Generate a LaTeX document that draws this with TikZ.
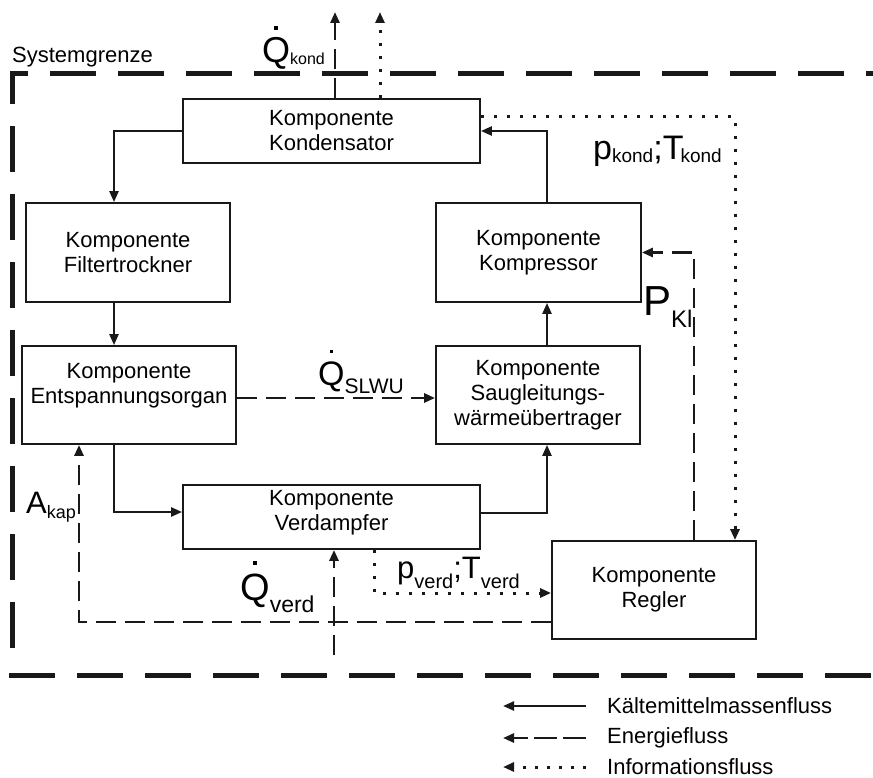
\documentclass[tikz,border=0pt]{standalone}
\usepackage{fontspec}
\setmainfont{Liberation Sans}
\usetikzlibrary{arrows.meta,calc}
% Q with a dot above (time derivative); the dot is a small square rule
\newcommand\Qdot{\ooalign{Q\cr\hidewidth\raisebox{0.93em}{\rule{3.5pt}{3.5pt}}\hidewidth\cr}}
% symbol with lowered subscript: size, symbol, subscript size, subscript, drop
\newcommand\flab[5]{{\fontsize{#1}{#1}\selectfont #2}\raisebox{-#5}{\fontsize{#3}{#3}\selectfont #4}}
\begin{document}
\begin{tikzpicture}[x=1pt,y=-1pt,
  comp/.style={draw=black!90, line width=1.8pt, align=center, inner sep=0pt,
    font=\fontsize{22}{25}\selectfont},
  comptext/.style={align=center, inner sep=0pt, font=\fontsize{22}{25}\selectfont},
  tip/.style={-{Triangle[length=11pt,width=9pt]}},
  mass/.style={tip, line width=2.3pt, draw=black!90},
  energy/.style={tip, line width=2.7pt, draw=black!90, dash pattern=on 20pt off 9pt},
  info/.style={tip, line width=3pt, draw=black!90, dash pattern=on 3pt off 10pt},
  boundary/.style={line width=5pt, draw=black!90, dash pattern=on 46pt off 22pt},
  lab/.style={inner sep=0pt, anchor=base west},
  legtext/.style={inner sep=0pt, anchor=west, font=\fontsize{22}{25}\selectfont}]
\useasboundingbox (0,0) rectangle (873,778);

% system boundary
\draw[boundary] (12,648) -- (12,74) -- (873,74);
\draw[boundary] (9,675) -- (873,675);
\node[lab, font=\fontsize{22}{25}\selectfont] (sysg) at (12,63) {Systemgrenze};

% components
\node[comp, minimum width=297pt, minimum height=64pt] (kond) at (331.5,131) {Komponente\\Kondensator};
\node[comp, minimum width=204pt, minimum height=99pt] (filt) at (128,252.5) {Komponente\\Filtertrockner};
\node[comp, minimum width=205pt, minimum height=99pt] (komp) at (538.5,252.5) {Komponente\\Kompressor};
\node[comp, minimum width=214pt, minimum height=98pt] (ent) at (129,395) {};
\node[comptext] (enttext) at (129,386) {Komponente\\Entspannungsorgan};
\node[comp, minimum width=204pt, minimum height=98pt] (saug) at (538,395) {Komponente\\Saugleitungs-\\wärmeübertrager};
\node[comp, minimum width=297pt, minimum height=64pt] (verd) at (331.5,517) {};
\node[comptext] (verdtext) at (331.5,513) {Komponente\\Verdampfer};
\node[comp, minimum width=204pt, minimum height=98pt] (regl) at (654,590) {Komponente\\Regler};

% guide coordinates for the connector lines
\coordinate (xL) at (114,0);
\coordinate (xR) at (547,0);
\coordinate (xQk) at (335,0);
\coordinate (xIk) at (380,0);
\coordinate (xIr) at (735,0);
\coordinate (xP) at (694,0);
\coordinate (xA) at (79,0);
\coordinate (xQv) at (334,0);
\coordinate (xIv) at (374,0);
\coordinate (qktop) at (335,12);
\coordinate (iktop) at (380,12);
\coordinate (qvbot) at (334,655);

% refrigerant mass flow
\draw[mass] (kond.west) -| (xL |- filt.north);
\draw[mass] (xL |- filt.south) -- (xL |- ent.north);
\draw[mass] (xL |- ent.south) |- ([yshift=5pt]verd.west);
\draw[mass] ([yshift=4pt]verd.east) -| (xR |- saug.south);
\draw[mass] (xR |- saug.north) -- (xR |- komp.south);
\draw[mass] (xR |- komp.north) |- (kond.east);

% energy flow
\draw[energy] (xQk |- kond.north) -- (qktop);
\draw[energy] ([yshift=-3pt]ent.east) -- ([yshift=-3pt]saug.west);
\draw[energy] (xP |- regl.north) |- (komp.east);
\draw[energy] ([yshift=-32pt]regl.west) -| (xA |- ent.south);
\draw[energy] (qvbot) -- (xQv |- verd.south);

% information flow
\draw[info] (xIk |- kond.north) -- (iktop);
\draw[info] ([yshift=14pt]kond.east) -| (xIr |- regl.north);
\draw[info] (xIv |- verd.south) |- ([yshift=-3pt]regl.west);

% flow labels
\node[lab] (lqk) at (262,63) {\flab{36}{\Qdot}{16}{kond}{2pt}};
\node[lab] (lpk) at (593,160) {\flab{34}{p}{19}{kond}{3pt}\fontsize{34}{34}\selectfont;\flab{34}{T\kern-3pt}{19}{kond}{3pt}};
\node[lab] (lpkl) at (643,315) {\flab{42}{P}{24}{Kl}{12pt}};
\node[lab] (lqs) at (318,385) {\flab{34}{\Qdot}{21}{SLWU}{8pt}};
\node[lab] (lak) at (26,513) {\flab{31}{A}{18}{kap}{5pt}};
\node[lab] (lqv) at (240,600) {\flab{38}{\Qdot}{23}{verd}{12pt}};
\node[lab] (lpv) at (397,578) {\flab{31}{p}{20}{verd}{10pt}\fontsize{31}{31}\selectfont;\flab{31}{T}{20}{verd}{10pt}};

% legend
\coordinate (lg1a) at (586,706); \coordinate (lg1b) at (503,706);
\coordinate (lg2a) at (586,738); \coordinate (lg2b) at (503,738);
\coordinate (lg3a) at (586,767); \coordinate (lg3b) at (503,767);
\draw[mass] (lg1a) -- (lg1b);
\draw[energy, dash pattern=on 23pt off 6pt] (lg2a) -- (lg2b);
\draw[info, dash pattern=on 3pt off 9pt] (lg3a) -- (lg3b);
\node[legtext] (leg1) at (607,706) {Kältemittelmassenfluss};
\node[legtext] (leg2) at (607,738) {Energiefluss};
\node[legtext] (leg3) at (607,767) {Informationsfluss};
\end{tikzpicture}
\end{document}
